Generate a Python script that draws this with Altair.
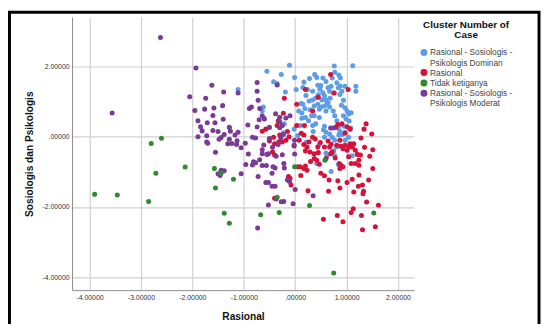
import altair as alt
import pandas as pd

CATEGORIES = [
    "Rasional - Sosiologis - Psikologis Dominan",
    "Rasional",
    "Tidak ketiganya",
    "Rasional - Sosiologis - Psikologis Moderat",
]
COLORS = ["#5c9de6", "#d6123a", "#2e8a30", "#7a3a96"]

X_TICKS = [-4, -3, -2, -1, 0, 1, 2]
Y_TICKS = [-4, -2, 0, 2]

DOMINAN = [
    (-1.11, 1.35), (-0.55, 1.87), (-0.42, 1.57), (-0.27, 1.78), (-0.11, 2.04), (-0.01, 1.69),
    (0.02, 1.35), (-0.19, 1.28), (0.17, 1.56), (0.28, 1.66), (0.38, 1.78), (0.42, 1.69),
    (0.76, 2.02), (0.77, 1.84), (0.85, 1.76), (0.88, 1.68), (1.12, 2.03), (1.18, 1.44),
    (1.18, 1.30), (-0.62, 0.85), (-0.64, 0.74), (-0.60, 0.53), (-0.21, 0.37), (-0.23, 0.12),
    (0.15, 1.41), (0.21, 1.18), (0.15, 0.93), (0.19, 0.81), (0.13, 0.68), (0.27, 1.02),
    (0.29, 0.77), (0.34, 1.05), (0.37, 0.88), (0.40, 1.11), (0.44, 1.47), (0.48, 1.36),
    (0.50, 1.46), (0.54, 1.26), (0.57, 1.17), (0.60, 1.06), (0.64, 1.40), (0.67, 1.30),
    (0.70, 1.44), (0.74, 1.25), (0.81, 1.54), (0.84, 1.40), (0.91, 1.30), (0.94, 1.04),
    (0.97, 0.83), (1.01, 0.74), (1.04, 0.65), (1.09, 0.69), (0.99, 0.51), (0.94, 0.60),
    (0.44, 0.93), (0.47, 0.79), (0.50, 0.85), (0.57, 0.88), (0.60, 0.74), (0.64, 0.97),
    (0.67, 0.85), (0.74, 0.74), (0.77, 0.60), (0.81, 0.46), (0.84, 0.27), (0.87, 0.16),
    (0.91, 0.07), (0.97, 0.13), (0.37, 0.60), (0.40, 0.37), (0.34, 0.32), (0.47, 0.55),
    (0.57, 0.30), (0.60, 0.13), (0.57, -0.01), (0.67, 0.08), (0.72, -0.01), (0.77, -0.10),
    (0.81, -0.29), (0.77, -0.54), (0.60, -0.46), (0.47, -0.22), (0.42, -0.76), (0.70, -0.99),
    (0.84, -0.79), (1.11, -0.54), (0.10, 0.32), (0.13, 0.53), (0.07, 0.74), (0.26, 0.46),
    (0.22, -0.15), (-0.02, 0.22), (0.05, 0.04), (0.97, -0.10), (1.04, -0.01), (0.54, 1.68),
    (0.60, 1.58), (0.34, 1.30), (0.24, 1.35), (0.72, 1.68), (0.97, 1.44), (0.87, 1.21),
    (0.52, 1.05), (0.62, 0.95), (0.45, 1.20), (0.68, 1.10), (0.32, 0.60), (0.20, 0.55),
    (0.90, 0.90), (1.05, 0.45), (0.85, 0.05), (0.95, 0.30), (0.75, -0.40), (0.62, -0.55),
    (0.55, 0.20), (0.35, 0.15), (1.08, 0.25), (0.12, 0.95), (0.88, 1.45), (-0.35, 1.52),
]

RASIONAL = [
    (0.69, 1.78), (1.03, 1.35), (0.20, 1.35), (0.03, 0.93), (-0.21, 1.10), (-0.23, 0.67),
    (-0.33, 0.46), (-0.35, 0.32), (-0.57, 0.22), (-0.64, 0.16), (0.18, 0.32), (0.03, 0.32),
    (0.17, 0.05), (0.12, 0.10), (-0.15, 0.15), (-0.42, -0.01), (-0.50, -0.12), (-0.40, -0.20),
    (-0.32, -0.15), (-0.25, -0.15), (-0.18, -0.10), (-0.44, -0.43), (-0.40, -0.52), (-0.02, -0.26),
    (0.08, -0.10), (0.17, -0.22), (0.23, -0.29), (0.29, -0.43), (0.20, -0.40), (0.27, -0.15),
    (0.34, -0.01), (0.39, -0.06), (0.44, -0.29), (0.49, -0.16), (0.57, -0.29), (0.64, -0.12),
    (0.67, -0.29), (0.70, -0.21), (0.72, -0.43), (0.81, -0.24), (0.87, -0.10), (0.89, -0.27),
    (0.93, -0.34), (0.97, -0.24), (1.01, -0.38), (1.04, -0.29), (1.07, -0.20), (1.11, -0.29),
    (1.14, -0.20), (1.17, -0.38), (1.21, -0.50), (1.27, -0.52), (1.24, -0.67), (1.17, -0.76),
    (1.09, -0.76), (1.04, -0.57), (1.24, -0.81), (1.28, -0.03), (1.34, 0.22), (1.38, 0.37),
    (1.49, 0.08), (1.51, -0.37), (1.51, -0.90), (1.43, -1.23), (1.24, -1.09), (1.31, -1.37),
    (1.23, -1.41), (1.14, -1.57), (1.32, -1.62), (1.33, -1.55), (1.39, -1.86), (1.62, -1.95),
    (1.56, -2.56), (1.31, -2.65), (1.29, -2.24), (1.13, -2.05), (1.09, -2.16), (0.93, -2.42),
    (0.82, -2.24), (0.55, -2.35), (1.01, -1.30), (1.11, -1.21), (0.87, -1.46), (0.83, -1.25),
    (0.65, -1.55), (0.66, -1.23), (0.57, -1.11), (0.50, -1.04), (0.87, -0.90), (0.86, -0.76),
    (0.89, -0.81), (0.93, -0.85), (0.47, -0.78), (0.42, -0.67), (0.37, -0.62), (0.20, -0.83),
    (0.17, -0.90), (0.23, -0.95), (0.10, -0.85), (0.05, -0.85), (0.11, -1.10), (0.25, -1.54),
    (-0.08, -1.37), (-0.10, -1.18), (-0.13, -1.13), (-0.40, -1.75), (0.37, -0.48), (0.60, -0.62),
    (0.69, -0.48), (0.79, 0.27), (0.83, 0.35), (0.91, 0.37), (1.01, 0.29), (1.07, 0.22),
    (0.97, 0.10), (0.76, 1.25), (0.34, 0.74), (0.45, 1.13), (-0.30, 0.05), (-0.12, 0.00),
    (0.45, -0.45), (0.78, -0.60), (1.35, -0.30), (1.45, -0.55), (0.30, -0.70),
]

MODERAT = [
    (-2.62, 2.83), (-1.93, 1.96), (-3.56, 0.68), (-2.05, 1.14), (-1.62, 1.47), (-1.74, 1.10),
    (-1.39, 1.28), (-1.95, 0.75), (-1.76, 0.79), (-1.58, 0.82), (-1.41, 0.89), (-1.60, 0.61),
    (-1.89, 0.46), (-1.84, 0.29), (-1.71, 0.40), (-1.81, 0.17), (-1.89, 0.00), (-1.72, 0.03),
    (-1.72, -0.15), (-1.70, -0.18), (-1.60, 0.18), (-1.56, 0.40), (-1.50, 0.15), (-1.48, -0.07),
    (-1.40, 0.50), (-1.44, -0.02), (-1.55, -0.44), (-1.38, 0.07), (-1.28, 0.27), (-1.26, 0.16),
    (-1.31, -0.20), (-1.28, -0.07), (-1.17, 0.05), (-1.11, 0.13), (-1.13, -0.11), (-1.23, -0.19),
    (-1.14, -0.22), (-1.11, 1.25), (-1.05, -0.31), (-0.97, -0.18), (-0.92, 0.34), (-0.89, 0.81),
    (-0.85, 0.85), (-0.91, -0.49), (-0.96, -0.79), (-1.05, -1.05), (-0.83, -0.01), (-0.77, -0.03),
    (-0.74, 0.28), (-0.74, 1.55), (-0.74, 1.30), (-0.72, 1.04), (-0.69, 0.81), (-0.70, 0.49),
    (-0.64, 0.60), (-0.60, 0.51), (-0.81, -0.71), (-0.77, -0.74), (-0.83, -0.80), (-0.69, -0.65),
    (-0.61, -0.23), (-0.64, -0.37), (-0.72, -1.13), (-0.57, -1.30), (-0.52, -1.30), (-0.52, -1.94),
    (-0.73, -2.60), (-0.56, -0.82), (-0.45, -1.04), (-0.43, -0.85), (-0.39, -0.89), (-0.45, -1.41),
    (-0.39, -1.41), (-0.37, -1.77), (-0.27, -1.85), (-0.22, -0.76), (-0.21, -0.89), (-0.15, -1.23),
    (-0.11, -1.27), (-0.01, -0.49), (-0.04, -1.91), (0.00, -1.50), (0.35, -1.68), (-0.38, 0.66),
    (-0.35, 1.48), (-0.30, 0.43), (-0.30, 0.56), (-0.30, 0.26), (-0.25, 0.32), (-0.18, 0.54),
    (-0.10, 0.60), (-0.50, 0.27), (-0.50, -0.05), (-0.52, -0.48), (-0.44, -0.30), (-0.33, -0.22),
    (-0.28, -0.03), (-0.23, 0.07), (0.69, 0.25), (0.74, 0.25), (-1.50, -1.05), (-1.44, -0.95),
    (-1.38, -0.97), (-1.46, -1.10), (-0.64, -0.48), (-0.55, -0.50), (-0.64, -0.82), (-0.37, -0.55),
    (-0.25, -0.51), (-0.02, -0.23), (-0.01, -0.10), (-0.22, -1.84),
]

TIDAK = [
    (-3.90, -1.64), (-3.46, -1.66), (-2.85, -1.84), (-2.71, -1.04), (-2.80, -0.19), (-2.60, -0.04),
    (-2.14, -0.86), (-1.57, -0.90), (-1.55, -1.46), (-1.44, -1.04), (-1.20, -1.21), (-1.38, -2.18),
    (-1.28, -2.46), (-0.67, -2.22), (-0.31, -2.16), (-0.35, -1.72), (-0.01, -0.85), (0.28, -1.96),
    (0.58, -0.67), (0.75, -3.88), (1.53, -2.17),
]

SERIES = [DOMINAN, RASIONAL, MODERAT, TIDAK]
SERIES_NAMES = [CATEGORIES[0], CATEGORIES[1], CATEGORIES[3], CATEGORIES[2]]

rows = []
i = 0
for name, pts in zip(SERIES_NAMES, SERIES):
    for x, y in pts:
        rows.append({"x": x, "y": y, "cluster": name, "idx": i})
        i += 1
df = pd.DataFrame(rows)

tick_expr = ("datum.value == 0 ? '.00000' : (datum.value < 0 ? '-' : '') + "
             "format(abs(datum.value), '.5f')")

legend_label_expr = (
    "datum.label == 'Rasional - Sosiologis - Psikologis Dominan' ? "
    "['Rasional - Sosiologis -', 'Psikologis Dominan'] : "
    "datum.label == 'Rasional - Sosiologis - Psikologis Moderat' ? "
    "['Rasional - Sosiologis -', 'Psikologis Moderat'] : datum.label"
)

points = alt.Chart(df).mark_circle(size=26, opacity=1).encode(
    x=alt.X(
        "x:Q",
        scale=alt.Scale(domain=[-4.34, 2.31], nice=False, zero=False),
        axis=alt.Axis(
            values=X_TICKS, labelExpr=tick_expr, title="Rasional",
            titleX=173.5, titleY=27, titleBaseline="middle", titleAlign="center",
            labelPadding=4,
        ),
    ),
    y=alt.Y(
        "y:Q",
        scale=alt.Scale(domain=[-4.37, 3.41], nice=False, zero=False),
        axis=alt.Axis(
            values=Y_TICKS, labelExpr=tick_expr, title="Sosiologis dan Psikologis",
            titleX=-43, titleY=138.5, titleAngle=270, titleBaseline="middle",
            titleAlign="center", labelPadding=3,
        ),
    ),
    color=alt.Color(
        "cluster:N",
        scale=alt.Scale(domain=CATEGORIES, range=COLORS),
        legend=alt.Legend(
            title=["Cluster Number of", "Case"],
            orient="none", legendX=353, legendY=3,
            titleAnchor="middle", titleAlign="center", titleFontSize=10,
            titleLineHeight=10.5, titleColor="#111", titlePadding=8,
            labelExpr=legend_label_expr, labelFontSize=8.4, labelColor="#444",
            labelOffset=2, symbolType="circle", symbolSize=50,
            symbolStrokeWidth=0, symbolOpacity=1, rowPadding=1.5, padding=0,
        ),
    ),
    order=alt.Order("idx:Q"),
)

border = alt.Chart(alt.Data(values=[{"b": 1}])).mark_rect(
    fillOpacity=0, stroke="black", strokeWidth=3
).encode(
    x=alt.value(-63.5), x2=alt.value(474), y=alt.value(-5), y2=alt.value(340)
)

chart = alt.layer(points, border).properties(
    width=347, height=277,
    autosize=alt.AutoSizeParams(type="none"),
    padding={"left": 65, "top": 7, "right": 129, "bottom": 32},
    background="white",
).configure(
    font="Liberation Sans"
).configure_view(
    stroke="transparent"
).configure_axis(
    grid=True, gridColor="#d0d0d0", gridWidth=1.2,
    domainColor="#8c8c8c", domainWidth=1, ticks=False,
    labelFontSize=7, labelColor="#333", titleFontSize=10.3,
    titleFontWeight="bold", titleColor="#111",
)

chart.save("out.html", embed_options={"renderer": "svg", "actions": False})
